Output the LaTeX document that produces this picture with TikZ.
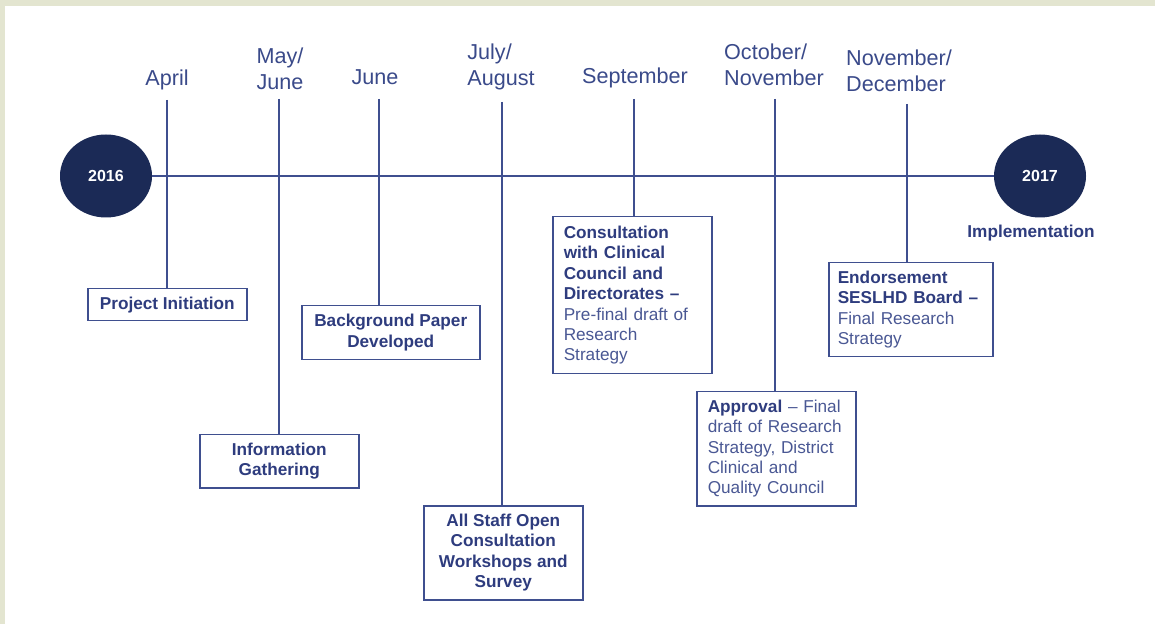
\documentclass[tikz,border=0pt]{standalone}
\usepackage{fontspec}
\setmainfont{Liberation Sans}
\usepackage{xcolor}
\usepackage{tikz}
\usetikzlibrary{positioning, shapes.geometric}

\definecolor{navytext}{HTML}{2E3C7E}
\definecolor{softtext}{HTML}{4A5894}
\definecolor{monthtext}{HTML}{3A4A8A}
\definecolor{rulecol}{HTML}{3F4F8F}
\definecolor{yearfill}{HTML}{1B2A56}
\definecolor{framecol}{HTML}{E3E5D0}

\begin{document}
\begin{tikzpicture}[
    x=0.5pt, y=-0.5pt,
    month/.style={font=\fontsize{10.8}{13}\selectfont, text=monthtext, align=left, inner sep=0pt},
    event/.style={rectangle, draw=rulecol, line width=0.75pt, anchor=north west, align=center,
        font=\fontsize{8.6}{10.2}\selectfont\bfseries, text=navytext, inner sep=0pt},
    note/.style={event, align=left, inner xsep=5.5pt},
    year/.style={ellipse, fill=yearfill, minimum width=46pt, minimum height=41.5pt, inner sep=0pt,
        font=\fontsize{8}{9}\selectfont\bfseries, text=white},
    stem/.style={draw=rulecol, line width=0.75pt}
]
\useasboundingbox (0,0) rectangle (1155,624);

% Frame
\fill[white] (0,0) rectangle (1155,624);
\fill[framecol] (0,0) rectangle (1155,6);
\fill[framecol] (0,0) rectangle (5,624);

% Years and main line
\node[year] (y16) at (106,176) {2016};
\node[year] (y17) at (1040,176) {2017};
\node[font=\fontsize{8.6}{10}\selectfont\bfseries, text=navytext] (impl) at (1031,233) {Implementation};
\draw[stem] (y16) -- (y17);

% Month labels on top
\node[month] (m1) at (167,80) {April};
\node[month] (m2) at (280,69) {May/\\June};
\node[month] (m3) at (375,77) {June};
\node[month] (m4) at (501,67) {July/\\August};
\node[month] (m5) at (635,78) {September};
\node[month] (m6) at (774,65) {October/\\November};
\node[month] (m7) at (899,71) {November/\\December};

% Top ends of the stems
\coordinate (s1) at (167,100);
\coordinate (s2) at (279,99);
\coordinate (s3) at (379,99);
\coordinate (s4) at (502,102);
\coordinate (s5) at (634,99);
\coordinate (s6) at (775,99);
\coordinate (s7) at (907,104);

% Event boxes
\node[event, minimum width=79.5pt, minimum height=16pt] (b1) at (87,288) {Project Initiation};
\node[event, minimum width=79.5pt, minimum height=26.5pt] (b2) at (199,434) {Information\\Gathering};
\node[event, minimum width=89pt, minimum height=27pt] (b3) at (301,305) {Background Paper\\Developed};
\node[event, minimum width=79.5pt, minimum height=47pt] (b4) at (423,505) {All Staff Open\\Consultation\\Workshops and\\Survey};
\node[note, text width=68.5pt, minimum height=78.5pt] (b5) at (552,216)
    {Consultation\\with Clinical\\Council and\\Directorates --\\\mdseries\color{softtext}Pre-final draft of\\Research\\Strategy};
\node[note, text width=68.5pt, minimum height=57pt] (b6) at (696,391)
    {Approval \mdseries\color{softtext}-- Final\\draft of Research\\Strategy, District\\Clinical and\\Quality Council};
\node[note, text width=73pt, inner xsep=4.5pt, minimum height=47pt] (b7) at (828,262)
    {Endorsement\\SESLHD Board --\\\mdseries\color{softtext}Final Research\\Strategy};

% Stems down to the boxes
\foreach \i in {1,...,7} {
    \draw[stem] (s\i) -- (s\i |- b\i.north);
}

\end{tikzpicture}
\end{document}
